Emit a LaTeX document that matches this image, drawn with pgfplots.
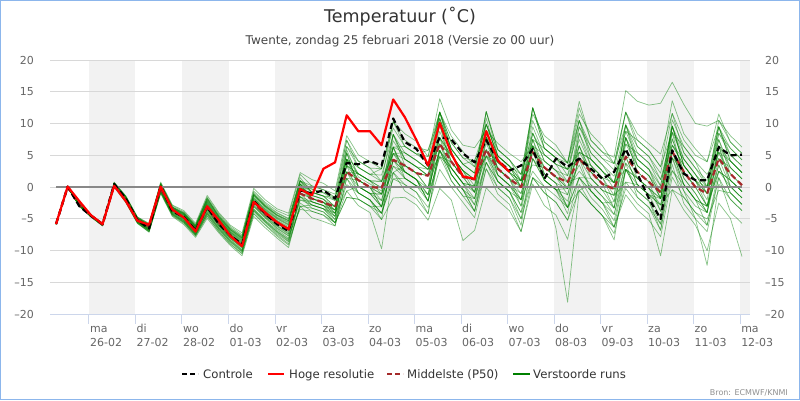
\documentclass[border=0pt]{standalone}
\usepackage{fontspec}
\setmainfont{DejaVu Sans}
\usepackage{pgfplots}
\pgfplotsset{compat=1.18}
\definecolor{band}{RGB}{242,242,242}
\definecolor{gridc}{RGB}{216,216,216}
\definecolor{axisc}{RGB}{204,214,235}
\definecolor{txt}{RGB}{51,51,51}
\definecolor{tickc}{RGB}{102,102,102}
\definecolor{memc}{RGB}{0,128,0}
\definecolor{p50c}{RGB}{165,42,42}
\definecolor{zeroc}{RGB}{136,136,136}
\definecolor{framec}{RGB}{140,182,236}
\newcommand\fs[1]{\fontsize{#1}{#1}\selectfont}
\pgfplotsset{
  memb/.style={draw=memc, line width=0.7pt, opacity=0.47, line join=round},
  frameaxis/.style={
    at={(56.05pt,212.85pt)}, anchor=origin,
    scale only axis, width=700pt, height=254.3pt,
    xmin=-0.52, xmax=59.69, ymin=-20, ymax=20,
    axis line style={draw=none},
    ytick={-20,-15,-10,-5,0,5,10,15,20},
    yticklabels={–20,–15,–10,–5,0,5,10,15,20},
    ytick style={draw=none},
  },
}
\newcommand\mem[1]{\addplot[memb] table[header=false,row sep=\\,x expr=\coordindex,y index=0]{#1};}
\begin{document}
\begin{tikzpicture}[x=1pt,y=1pt]
\useasboundingbox (0,0) rectangle (800,400);
\fill[white] (0,0) rectangle (800,400);
\begin{axis}[
  frameaxis,
  xtick={2.8333,6.8333,10.8333,14.8333,18.8333,22.8333,26.8333,30.8333,34.8333,38.8333,42.8333,46.8333,50.8333,54.8333,58.8333},
  xticklabels={{\strut ma\\26-02},{\strut di\\27-02},{\strut wo\\28-02},{\strut do\\01-03},{\strut vr\\02-03},{\strut za\\03-03},{\strut zo\\04-03},{\strut ma\\05-03},{\strut di\\06-03},{\strut wo\\07-03},{\strut do\\08-03},{\strut vr\\09-03},{\strut za\\10-03},{\strut zo\\11-03},{\strut ma\\12-03}},
  xticklabel style={anchor=north west, align=left, inner sep=0pt, font=\fontsize{11}{14}\selectfont, text=tickc, yshift=1.3pt, xshift=1pt},
  xtick pos=bottom, tick align=outside, major tick length=9.5pt,
  xtick style={draw=axisc, line width=1pt},
  ytick pos=left,
  yticklabel style={anchor=east, inner sep=0pt, font=\fs{11}, text=tickc, xshift=-6.5pt},
  clip=true,
]
\fill[band] (axis cs:2.8333,-20) rectangle (axis cs:6.8333,20);
\fill[band] (axis cs:10.8333,-20) rectangle (axis cs:14.8333,20);
\fill[band] (axis cs:18.8333,-20) rectangle (axis cs:22.8333,20);
\fill[band] (axis cs:26.8333,-20) rectangle (axis cs:30.8333,20);
\fill[band] (axis cs:34.8333,-20) rectangle (axis cs:38.8333,20);
\fill[band] (axis cs:42.8333,-20) rectangle (axis cs:46.8333,20);
\fill[band] (axis cs:50.8333,-20) rectangle (axis cs:54.8333,20);
\fill[band] (axis cs:58.8333,-20) rectangle (axis cs:59.69,20);
\draw[gridc, line width=1pt] (axis cs:-0.52,20) -- (axis cs:59.69,20);
\draw[gridc, line width=1pt] (axis cs:-0.52,15) -- (axis cs:59.69,15);
\draw[gridc, line width=1pt] (axis cs:-0.52,10) -- (axis cs:59.69,10);
\draw[gridc, line width=1pt] (axis cs:-0.52,5) -- (axis cs:59.69,5);
\draw[gridc, line width=1pt] (axis cs:-0.52,0) -- (axis cs:59.69,0);
\draw[gridc, line width=1pt] (axis cs:-0.52,-5) -- (axis cs:59.69,-5);
\draw[gridc, line width=1pt] (axis cs:-0.52,-10) -- (axis cs:59.69,-10);
\draw[gridc, line width=1pt] (axis cs:-0.52,-15) -- (axis cs:59.69,-15);
\draw[axisc, line width=1pt] (axis cs:-0.52,-20) -- (axis cs:59.69,-20);
% ensemble members (Verstoorde runs)
\mem{-5.8\\0.0\\-2.7\\-4.4\\-5.8\\0.5\\-1.7\\-5.0\\-6.2\\0.1\\-3.4\\-4.5\\-6.5\\-2.6\\-5.1\\-7.1\\-8.5\\-1.8\\-3.6\\-5.0\\-6.0\\0.0\\-1.8\\-2.4\\-3.6\\5.4\\2.1\\1.0\\-0.1\\8.3\\5.4\\4.2\\2.8\\11.8\\7.0\\4.6\\3.2\\9.9\\4.9\\3.3\\1.0\\10.5\\6.1\\4.6\\2.8\\10.5\\6.4\\4.5\\2.7\\11.8\\7.4\\5.8\\3.2\\13.6\\8.4\\6.0\\4.0\\11.5\\7.1\\5.3\\}
\mem{-5.8\\0.0\\-2.9\\-4.6\\-6.0\\0.2\\-2.2\\-5.5\\-6.8\\-0.6\\-4.2\\-5.4\\-7.4\\-4.1\\-6.5\\-8.5\\-10.0\\-3.6\\-5.4\\-7.0\\-8.3\\-2.0\\-2.8\\-3.4\\-5.1\\0.4\\-0.9\\-2.0\\-4.1\\1.3\\0.4\\-0.8\\-3.2\\2.8\\0.0\\-2.4\\-4.8\\2.9\\-0.1\\-1.7\\-5.0\\1.5\\-0.9\\-2.4\\-5.2\\-0.5\\-2.6\\-4.5\\-7.3\\0.8\\-1.6\\-3.2\\-6.8\\2.6\\-0.6\\-5.0\\-12.3\\0.5\\-1.9\\-3.7\\}
\mem{-5.8\\0.0\\-2.7\\-4.4\\-5.8\\0.6\\-1.6\\-4.9\\-6.0\\0.4\\-3.2\\-4.2\\-6.2\\-2.1\\-4.7\\-6.7\\-8.0\\-1.2\\-3.0\\-4.4\\-5.3\\1.5\\-0.8\\-1.4\\-2.1\\7.4\\3.1\\2.0\\1.9\\8.3\\4.4\\3.2\\2.8\\9.8\\4.0\\1.6\\1.2\\7.9\\1.9\\0.3\\-1.0\\6.5\\1.1\\-0.4\\-1.2\\6.5\\1.4\\-0.5\\-1.3\\7.8\\2.4\\0.8\\-0.8\\9.6\\3.4\\1.0\\0.0\\9.5\\4.1\\2.3\\}
\mem{-5.8\\0.0\\-2.9\\-4.6\\-6.0\\0.3\\-2.1\\-5.4\\-6.6\\-0.4\\-4.0\\-5.1\\-7.1\\-3.6\\-6.1\\-8.1\\-9.5\\-3.0\\-4.8\\-6.4\\-7.6\\-3.5\\-3.8\\-4.4\\-5.6\\-1.6\\-1.9\\-3.0\\-4.1\\1.3\\1.4\\0.2\\-1.2\\4.8\\3.0\\0.6\\-0.8\\4.9\\2.9\\1.3\\-1.0\\5.5\\4.1\\2.6\\0.8\\5.5\\4.4\\2.5\\0.7\\6.8\\5.4\\3.8\\1.2\\6.6\\4.4\\2.0\\0.0\\4.5\\3.1\\1.3\\}
\mem{-5.8\\0.0\\-2.8\\-4.5\\-5.9\\0.4\\-1.8\\-5.1\\-6.3\\0.0\\-3.6\\-4.7\\-6.7\\-2.9\\-5.4\\-7.4\\-8.8\\-2.2\\-4.0\\-5.4\\-6.5\\0.0\\-1.3\\-1.9\\-4.1\\3.4\\1.1\\0.0\\-3.1\\4.3\\2.4\\1.2\\-2.2\\5.8\\2.0\\-0.4\\-3.8\\3.9\\-0.1\\-1.7\\-6.0\\4.5\\1.1\\-0.4\\-4.2\\5.5\\2.4\\0.5\\-3.3\\7.8\\4.4\\2.8\\-1.8\\10.6\\6.4\\4.0\\0.0\\8.5\\5.1\\3.3\\}
\mem{-5.8\\0.0\\-2.6\\-4.3\\-5.7\\0.7\\-1.4\\-4.7\\-5.8\\0.6\\-2.9\\-3.9\\-5.9\\-1.6\\-4.2\\-6.2\\-7.5\\-0.6\\-2.4\\-3.7\\-4.5\\2.0\\0.2\\-0.4\\-1.1\\7.4\\4.1\\3.0\\2.9\\10.3\\7.4\\6.2\\5.8\\11.8\\7.0\\4.6\\4.2\\9.9\\4.9\\3.3\\2.0\\8.5\\4.1\\2.6\\1.8\\6.5\\2.4\\0.5\\-0.3\\5.8\\1.4\\-0.2\\-1.8\\5.6\\0.4\\-2.0\\-3.0\\3.5\\-0.9\\-2.7\\}
\mem{-5.8\\0.0\\-2.8\\-4.5\\-5.9\\0.3\\-2.0\\-5.3\\-6.5\\-0.2\\-3.8\\-5.0\\-7.0\\-3.4\\-5.9\\-7.9\\-9.3\\-2.8\\-4.6\\-6.1\\-7.3\\0.5\\-2.3\\-2.9\\-4.6\\5.4\\0.1\\-1.0\\-3.1\\8.3\\3.4\\2.2\\-0.2\\11.8\\5.0\\2.6\\0.2\\11.9\\4.9\\3.3\\0.0\\12.5\\6.1\\4.6\\1.8\\10.5\\4.4\\2.5\\-0.3\\9.8\\3.4\\1.8\\-1.8\\8.6\\1.4\\-1.0\\-4.0\\6.5\\0.1\\-1.7\\}
\mem{-5.8\\0.0\\-2.7\\-4.4\\-5.8\\0.6\\-1.7\\-5.0\\-6.1\\0.3\\-3.3\\-4.3\\-6.3\\-2.3\\-4.9\\-6.9\\-8.2\\-1.4\\-3.2\\-4.7\\-5.6\\1.0\\-0.3\\-0.9\\-1.6\\4.4\\2.1\\1.0\\0.9\\5.3\\3.4\\2.2\\1.8\\6.8\\3.0\\0.6\\0.2\\6.9\\2.9\\1.3\\0.0\\8.5\\5.1\\3.6\\2.8\\9.5\\6.4\\4.5\\3.7\\11.8\\8.4\\6.8\\5.2\\11.6\\7.4\\5.0\\4.0\\9.5\\6.1\\4.3\\}
\mem{-5.8\\0.0\\-3.0\\-4.7\\-6.1\\0.1\\-2.4\\-5.7\\-7.0\\-0.9\\-4.5\\-5.7\\-7.7\\-4.6\\-7.0\\-9.0\\-10.5\\-4.2\\-6.0\\-7.7\\-9.1\\-3.0\\-3.3\\-3.9\\-5.6\\-1.6\\-1.9\\-3.0\\-5.1\\-1.7\\-1.6\\-2.8\\-5.2\\-0.2\\-2.0\\-8.4\\-6.8\\-0.1\\-2.1\\-3.7\\-7.0\\1.5\\0.1\\-6.5\\-18.1\\-0.5\\0.4\\-1.5\\-4.3\\2.8\\1.4\\-0.2\\-3.8\\4.6\\2.4\\0.0\\-3.0\\2.5\\1.1\\-0.7\\}
\mem{-5.8\\0.0\\-2.8\\-4.5\\-5.9\\0.4\\-1.9\\-5.2\\-6.4\\-0.1\\-3.7\\-4.8\\-6.8\\-3.1\\-5.6\\-7.6\\-9.0\\-2.4\\-4.2\\-5.7\\-6.8\\0.5\\-1.8\\-2.4\\-3.6\\5.9\\1.6\\0.5\\-0.6\\8.3\\4.4\\3.2\\1.8\\11.8\\6.0\\3.6\\2.2\\11.9\\5.9\\4.3\\2.0\\12.5\\7.1\\5.6\\3.8\\12.5\\7.4\\5.5\\3.7\\11.8\\6.4\\4.8\\2.2\\11.6\\5.4\\3.0\\1.0\\9.5\\4.1\\2.3\\}
\mem{-5.8\\0.0\\-2.9\\-4.6\\-6.0\\0.2\\-2.1\\-5.4\\-6.7\\-0.5\\-4.1\\-5.3\\-7.3\\-3.9\\-6.3\\-8.3\\-9.8\\-3.4\\-5.2\\-6.7\\-8.0\\-1.5\\-2.3\\-2.9\\-5.1\\2.4\\1.1\\0.0\\-3.1\\3.3\\2.4\\1.2\\-2.2\\5.8\\3.0\\0.6\\-2.8\\3.9\\0.9\\-0.7\\-5.0\\4.5\\2.1\\0.6\\-3.2\\1.5\\-0.6\\-2.5\\-6.3\\-0.2\\-2.6\\-4.2\\-10.8\\-0.4\\-3.6\\-6.0\\-10.0\\-2.5\\-4.9\\-10.9\\}
\mem{-5.8\\0.0\\-2.7\\-4.4\\-5.8\\0.6\\-1.5\\-4.8\\-5.9\\0.5\\-3.1\\-4.1\\-6.1\\-1.9\\-4.5\\-6.5\\-7.8\\-1.0\\-2.8\\-4.1\\-5.0\\1.0\\-0.8\\-1.4\\-1.6\\6.4\\3.1\\2.0\\2.9\\9.3\\6.4\\5.2\\5.8\\10.8\\6.0\\3.6\\4.2\\7.9\\2.9\\1.3\\1.0\\5.5\\1.1\\-0.4\\-0.2\\3.5\\-0.6\\-2.5\\-2.3\\4.8\\0.4\\-1.2\\-1.8\\7.6\\2.4\\0.0\\0.0\\7.5\\3.1\\1.3\\}
\mem{-5.8\\0.0\\-2.9\\-4.6\\-6.0\\0.2\\-2.3\\-5.6\\-6.9\\-0.7\\-4.3\\-5.5\\-7.5\\-4.3\\-6.7\\-8.7\\-10.2\\-3.8\\-5.6\\-7.3\\-8.6\\-3.0\\-2.8\\-3.4\\-4.1\\-0.6\\0.1\\-1.0\\-1.1\\2.3\\3.4\\2.2\\1.8\\4.8\\4.0\\1.6\\1.2\\4.9\\3.9\\2.3\\1.0\\3.5\\3.1\\1.6\\0.8\\1.5\\1.4\\-0.5\\-1.3\\0.8\\0.4\\-1.2\\-2.8\\-0.4\\-1.6\\-4.0\\-5.0\\-0.5\\-0.9\\-2.7\\}
\mem{-5.8\\0.0\\-2.6\\-4.3\\-5.7\\0.8\\-1.4\\-4.7\\-5.7\\0.8\\-2.8\\-3.7\\-5.7\\-1.3\\-4.0\\-6.0\\-7.2\\-0.2\\-2.0\\-3.4\\-4.1\\2.3\\1.2\\0.6\\-0.6\\8.1\\5.1\\4.0\\2.9\\10.3\\6.4\\5.2\\3.8\\11.8\\6.0\\3.6\\2.2\\11.9\\5.9\\4.3\\2.0\\12.5\\7.1\\5.6\\3.8\\10.5\\5.4\\3.5\\1.7\\9.8\\4.4\\2.8\\0.2\\9.6\\3.4\\1.0\\-1.0\\7.5\\2.1\\0.3\\}
\mem{-5.8\\0.0\\-3.0\\-4.7\\-6.1\\0.0\\-2.4\\-5.7\\-7.1\\-1.0\\-4.6\\-5.9\\-7.9\\-4.9\\-7.2\\-9.2\\-10.8\\-4.6\\-6.4\\-8.0\\-9.5\\-2.5\\-3.8\\-4.4\\-6.1\\1.4\\-0.9\\-2.0\\-4.1\\4.3\\2.4\\1.2\\-1.2\\7.8\\4.0\\1.6\\-0.8\\5.9\\1.9\\0.3\\-3.0\\4.5\\1.1\\-0.4\\-3.2\\1.5\\-1.6\\-3.5\\-6.3\\2.8\\-0.6\\-2.2\\-5.8\\5.6\\1.4\\-1.0\\-4.0\\6.5\\3.1\\1.3\\}
\mem{-5.8\\0.0\\-2.8\\-4.5\\-5.9\\0.5\\-1.8\\-5.1\\-6.3\\0.1\\-3.6\\-4.6\\-6.6\\-2.8\\-5.3\\-7.3\\-8.7\\-2.0\\-3.8\\-5.3\\-6.4\\1.0\\-1.8\\-2.4\\-3.1\\5.4\\0.1\\-1.0\\-1.1\\6.3\\1.4\\0.2\\-0.2\\9.8\\3.0\\0.6\\0.2\\10.9\\3.9\\2.3\\1.0\\12.5\\6.1\\4.6\\3.8\\13.5\\7.4\\5.5\\4.7\\15.2\\13.5\\12.9\\13.2\\16.5\\13.0\\10.0\\9.6\\10.5\\8.1\\6.3\\}
\mem{-5.8\\0.0\\-2.7\\-4.4\\-5.8\\0.5\\-1.7\\-5.0\\-6.2\\0.2\\-3.4\\-4.4\\-6.4\\-2.5\\-5.1\\-7.1\\-8.4\\-1.7\\-3.5\\-4.9\\-5.9\\-0.5\\-1.3\\-1.9\\-3.1\\3.4\\2.1\\1.0\\-0.1\\6.3\\5.4\\4.2\\2.8\\7.8\\5.0\\2.6\\1.2\\4.9\\1.9\\0.3\\-2.0\\2.5\\0.1\\-1.4\\-3.2\\-0.5\\-2.6\\-4.5\\-6.3\\-1.2\\-3.6\\-5.2\\-7.8\\1.6\\-1.6\\-4.0\\-6.0\\2.5\\0.1\\-1.7\\}
\mem{-5.8\\0.0\\-2.9\\-4.6\\-6.0\\0.3\\-2.1\\-5.4\\-6.6\\-0.4\\-4.0\\-5.2\\-7.2\\-3.7\\-6.1\\-8.1\\-9.6\\-3.1\\-4.9\\-6.5\\-7.7\\-1.5\\-2.8\\-3.4\\-5.6\\-0.6\\-2.9\\-4.0\\-9.7\\2.3\\0.4\\-0.8\\-4.2\\5.8\\2.0\\-0.4\\-3.8\\2.9\\-1.1\\-2.7\\-7.0\\0.5\\-2.9\\-4.4\\-8.2\\0.5\\-2.6\\-4.5\\-8.3\\2.8\\-0.6\\-2.2\\-6.8\\4.6\\0.4\\-2.0\\-6.0\\1.5\\-1.9\\-3.7\\}
\mem{-5.8\\0.0\\-2.7\\-4.4\\-5.8\\0.6\\-1.6\\-4.9\\-6.0\\0.4\\-3.3\\-4.3\\-6.3\\-2.2\\-4.8\\-6.8\\-8.1\\-1.3\\-3.1\\-4.5\\-5.5\\1.0\\-0.8\\-1.4\\-3.1\\4.4\\1.1\\0.0\\-2.1\\5.3\\2.4\\1.2\\-1.2\\8.8\\4.0\\1.6\\-0.8\\9.9\\4.9\\3.3\\0.0\\9.5\\5.1\\3.6\\0.8\\7.5\\3.4\\1.5\\-1.3\\9.8\\5.4\\3.8\\0.2\\9.6\\4.4\\2.0\\-1.0\\9.5\\5.1\\3.3\\}
\mem{-5.8\\0.0\\-2.8\\-4.5\\-5.9\\0.4\\-2.0\\-5.3\\-6.5\\-0.2\\-3.8\\-4.9\\-6.9\\-3.3\\-5.8\\-7.8\\-9.2\\-2.6\\-4.4\\-6.0\\-7.1\\-2.0\\-2.3\\-2.9\\-3.6\\2.4\\2.1\\1.0\\0.9\\6.3\\6.4\\5.2\\4.8\\13.9\\9.0\\6.6\\6.2\\8.9\\6.9\\5.3\\4.0\\6.5\\5.1\\3.6\\2.8\\4.5\\3.4\\1.5\\0.7\\2.8\\1.4\\-0.2\\-1.8\\2.6\\0.4\\-2.0\\-3.0\\2.5\\1.1\\-0.7\\}
\mem{-5.8\\0.0\\-2.8\\-4.5\\-5.9\\0.4\\-1.9\\-5.2\\-6.4\\0.0\\-3.7\\-4.7\\-6.7\\-3.0\\-5.5\\-7.5\\-8.9\\-2.3\\-4.1\\-5.6\\-6.7\\0.5\\-1.8\\-2.4\\-4.6\\3.4\\-0.9\\-2.0\\-5.1\\6.3\\2.4\\1.2\\-2.2\\10.8\\5.0\\2.6\\-0.8\\8.9\\2.9\\1.3\\-3.0\\7.5\\2.1\\0.6\\-3.2\\8.5\\3.4\\1.5\\-2.3\\7.8\\2.4\\0.8\\-3.8\\9.6\\3.4\\1.0\\-3.0\\6.5\\1.1\\-0.7\\}
\mem{-5.8\\0.0\\-2.7\\-4.4\\-5.8\\0.7\\-1.5\\-4.8\\-5.9\\0.6\\-3.1\\-4.0\\-6.0\\-1.8\\-4.4\\-6.4\\-7.7\\-0.8\\-2.6\\-4.0\\-4.9\\1.0\\0.2\\-0.4\\-1.6\\4.4\\3.1\\2.0\\0.9\\5.3\\4.4\\3.2\\1.8\\7.8\\5.0\\2.6\\1.2\\7.9\\4.9\\3.3\\1.0\\5.5\\3.1\\1.6\\-0.2\\2.5\\0.4\\-1.5\\-3.3\\3.8\\1.4\\-0.2\\-2.8\\6.6\\3.4\\1.0\\-1.0\\6.5\\4.1\\2.3\\}
\mem{-5.8\\0.0\\-2.9\\-4.6\\-6.0\\0.2\\-2.2\\-5.5\\-6.8\\-0.6\\-4.2\\-5.3\\-7.3\\-4.0\\-6.4\\-8.4\\-9.9\\-3.5\\-5.3\\-6.9\\-8.2\\-1.0\\-2.8\\-3.4\\-4.6\\4.4\\1.1\\0.0\\-1.1\\7.3\\4.4\\3.2\\1.8\\10.8\\6.0\\3.6\\2.2\\8.9\\3.9\\2.3\\0.0\\7.5\\3.1\\1.6\\-0.2\\8.5\\4.4\\2.5\\0.7\\7.8\\3.4\\1.8\\-0.8\\5.6\\0.4\\-2.0\\-4.0\\3.5\\-0.9\\-2.7\\}
\mem{-5.8\\0.0\\-2.8\\-4.5\\-5.9\\0.5\\-1.8\\-5.1\\-6.2\\0.1\\-3.5\\-4.6\\-6.6\\-2.7\\-5.2\\-7.2\\-8.6\\-1.9\\-3.7\\-5.2\\-6.2\\0.0\\-1.3\\-1.9\\-3.6\\2.4\\0.1\\-1.0\\-3.1\\3.3\\1.4\\0.2\\-2.2\\4.8\\1.0\\-1.4\\-3.8\\4.9\\0.9\\-0.7\\-4.0\\6.5\\3.1\\1.6\\-1.2\\4.5\\1.4\\-0.5\\-3.3\\6.8\\3.4\\1.8\\-1.8\\9.6\\5.4\\3.0\\0.0\\10.5\\7.1\\5.3\\}
\mem{-5.8\\0.0\\-2.9\\-4.6\\-6.0\\0.1\\-2.3\\-5.6\\-7.0\\-0.8\\-4.4\\-5.6\\-7.6\\-4.5\\-6.9\\-8.9\\-10.4\\-4.1\\-5.9\\-7.5\\-8.9\\-3.0\\-4.8\\-5.4\\-6.1\\1.4\\-1.9\\-3.0\\-3.1\\4.3\\1.4\\0.2\\-0.2\\5.8\\1.0\\-1.4\\-1.8\\5.9\\0.9\\-0.7\\-2.0\\6.5\\2.1\\0.6\\-0.2\\6.5\\2.4\\0.5\\-0.3\\4.8\\0.4\\-1.2\\-2.8\\4.6\\-0.6\\-3.0\\-4.0\\4.5\\0.1\\-1.7\\}
\mem{-5.8\\0.0\\-2.7\\-4.4\\-5.8\\0.6\\-1.6\\-4.9\\-6.0\\0.4\\-3.2\\-4.2\\-6.2\\-1.7\\-4.7\\-6.7\\-8.0\\-1.2\\-3.0\\-4.4\\-5.3\\0.5\\-0.8\\-1.4\\-3.1\\6.4\\4.1\\3.0\\0.9\\10.3\\8.4\\7.2\\4.8\\11.8\\8.0\\5.6\\3.2\\9.9\\5.9\\4.3\\1.0\\11.5\\8.1\\6.6\\3.8\\11.5\\8.4\\6.5\\3.7\\9.8\\6.4\\4.8\\1.2\\8.6\\4.4\\2.0\\-1.0\\5.5\\2.1\\0.3\\}
\mem{-5.8\\0.0\\-2.8\\-4.5\\-5.9\\0.3\\-2.0\\-5.3\\-6.6\\-0.3\\-3.9\\-5.0\\-7.0\\-3.5\\-6.0\\-8.0\\-9.4\\-2.9\\-4.7\\-6.2\\-7.4\\0.0\\-2.3\\-2.9\\-4.1\\4.4\\0.1\\-1.0\\-2.1\\6.3\\2.4\\1.2\\-0.2\\7.8\\2.0\\-0.4\\-1.8\\7.9\\1.9\\0.3\\-2.0\\6.5\\1.1\\-0.4\\-2.2\\4.5\\-0.6\\-2.5\\-4.3\\3.8\\-1.6\\-3.2\\-5.8\\3.6\\-2.6\\-5.0\\-7.0\\1.5\\-3.9\\-5.7\\}
\mem{-5.8\\0.0\\-2.7\\-4.4\\-5.8\\0.5\\-1.7\\-5.0\\-6.1\\0.3\\-3.4\\-4.4\\-6.4\\-2.4\\-5.0\\-7.0\\-8.3\\-1.6\\-3.4\\-4.8\\-5.8\\-1.0\\-1.8\\-2.4\\-4.1\\3.4\\2.1\\1.0\\-1.1\\4.3\\3.4\\2.2\\-0.2\\5.8\\3.0\\0.6\\-1.8\\3.9\\0.9\\-0.7\\-4.0\\1.5\\-0.9\\-2.4\\-5.2\\1.5\\-0.6\\-2.5\\-5.3\\2.8\\0.4\\-1.2\\-4.8\\6.6\\3.4\\1.0\\-2.0\\8.5\\6.1\\4.3\\}
\mem{-5.8\\0.0\\-2.7\\-4.4\\-5.8\\0.6\\-1.6\\-4.9\\-6.0\\0.5\\-3.2\\-4.1\\-6.1\\-2.0\\-4.6\\-6.6\\-7.9\\-1.1\\-2.9\\-4.3\\-5.2\\0.0\\-0.3\\-0.9\\-2.1\\1.4\\1.1\\0.0\\-1.1\\5.3\\5.4\\4.2\\2.8\\6.8\\5.0\\2.6\\1.2\\5.9\\3.9\\2.3\\0.0\\7.5\\6.1\\4.6\\2.8\\5.5\\4.4\\2.5\\0.7\\8.8\\7.4\\5.8\\3.2\\8.6\\6.4\\4.0\\2.0\\5.5\\4.1\\2.3\\}
\mem{-5.8\\0.0\\-2.9\\-4.6\\-6.0\\0.2\\-2.2\\-5.5\\-6.8\\-0.7\\-4.3\\-5.5\\-7.5\\-4.2\\-6.6\\-8.6\\-10.1\\-3.7\\-5.5\\-7.1\\-8.5\\-1.5\\-3.3\\-3.9\\-5.6\\2.4\\-0.9\\-2.0\\-4.1\\2.3\\-0.6\\-1.8\\-4.2\\6.8\\2.0\\-0.4\\-2.8\\7.9\\2.9\\1.3\\-2.0\\8.5\\4.1\\2.6\\-0.2\\9.5\\5.4\\3.5\\0.7\\8.8\\4.4\\2.8\\-0.8\\7.6\\2.4\\0.0\\-3.0\\5.5\\1.1\\-0.7\\}
% zero line
\addplot[zeroc, line width=1.6pt] coordinates {(0,0) (59,0)};
% Middelste (P50)
\addplot[p50c, line width=2.2pt, dash pattern=on 6pt off 3.5pt, line join=round] table[header=false,row sep=\\,x expr=\coordindex,y index=0]{-5.8\\0.0\\-2.8\\-4.5\\-5.9\\0.3\\-2.0\\-5.1\\-6.2\\-0.2\\-3.6\\-4.8\\-6.7\\-3.2\\-5.6\\-7.6\\-9.2\\-2.5\\-4.3\\-5.6\\-6.7\\-1.0\\-1.8\\-2.4\\-3.1\\2.4\\1.1\\0.0\\-0.1\\4.3\\3.4\\2.2\\1.8\\6.8\\4.0\\1.6\\1.2\\5.9\\2.9\\1.3\\0.0\\5.5\\3.1\\1.6\\0.8\\4.5\\2.4\\0.5\\-0.3\\4.8\\2.4\\0.8\\-0.8\\5.6\\2.4\\0.0\\-1.0\\4.5\\2.1\\0.3\\};
% Controle
\addplot[black, line width=2.2pt, dash pattern=on 6pt off 3.5pt, line join=round] table[header=false,row sep=\\,x expr=\coordindex,y index=0]{-5.8\\0.1\\-3.0\\-4.5\\-5.8\\0.5\\-1.8\\-5.2\\-6.5\\0.2\\-3.8\\-4.7\\-6.8\\-3.1\\-5.8\\-7.6\\-9.0\\-2.1\\-4.2\\-5.8\\-6.9\\-0.5\\-1.0\\-0.5\\-1.8\\3.8\\3.6\\4.1\\3.4\\10.8\\7.1\\6.0\\3.4\\7.9\\7.5\\5.3\\3.9\\7.4\\4.2\\2.6\\3.4\\6.0\\1.3\\4.5\\3.2\\4.5\\2.9\\1.3\\2.4\\6.0\\2.1\\-1.8\\-5.0\\5.8\\2.1\\1.1\\1.1\\6.3\\5.0\\5.1\\};
% Hoge resolutie
\addplot[red, line width=2.2pt, line join=round] table[header=false,row sep=\\,x expr=\coordindex,y index=0]{-5.8\\0.1\\-2.2\\-4.4\\-5.8\\0.2\\-2.2\\-5.3\\-5.9\\0.1\\-3.5\\-4.8\\-7.0\\-3.0\\-5.2\\-7.7\\-9.3\\-2.3\\-4.0\\-5.5\\-6.6\\-0.3\\-1.3\\2.9\\3.9\\11.3\\8.8\\8.8\\6.6\\13.8\\11.0\\7.4\\3.4\\10.1\\5.3\\1.7\\1.3\\8.8\\4.2\\2.4\\};
\end{axis}
\begin{axis}[
  frameaxis, xtick=\empty,
  ytick pos=right, yticklabel pos=right,
  yticklabel style={anchor=west, inner sep=0pt, font=\fs{11}, text=tickc, xshift=15pt},
]
\addplot[draw=none] coordinates {(0,0)};
\end{axis}
\node[anchor=base, inner sep=0pt, text=txt, font=\fs{17.5}] at (400,377) {Temperatuur (˚C)};
\node[anchor=base, inner sep=0pt, text=txt!90, font=\fs{12}] at (400,355.7) {Twente, zondag 25 februari 2018 (Versie zo 00 uur)};
\draw[black, line width=2.2pt, dash pattern=on 5pt off 3pt] (182,26) -- (198,26);
\node[anchor=base west, inner sep=0pt, text=txt, font=\fs{11.7}] at (203,22) {Controle};
\draw[red, line width=2.2pt] (268,26) -- (284,26);
\node[anchor=base west, inner sep=0pt, text=txt, font=\fs{11.7}] at (289,22) {Hoge resolutie};
\draw[p50c, line width=2.2pt, dash pattern=on 5pt off 3pt] (387,26) -- (403,26);
\node[anchor=base west, inner sep=0pt, text=txt, font=\fs{11.7}] at (407,22) {Middelste (P50)};
\draw[memc, line width=2.2pt] (513,26) -- (530,26);
\node[anchor=base west, inner sep=0pt, text=txt, font=\fs{11.7}] at (533,22) {Verstoorde runs};
\node[anchor=base east, inner sep=0pt, text={rgb,255:red,144;green,144;blue,144}, font=\fs{8}] at (788,5) {Bron: ECMWF/KNMI};
\draw[framec, line width=1pt] (0.5,0.5) rectangle (799.5,399.5);
\end{tikzpicture}
\end{document}
